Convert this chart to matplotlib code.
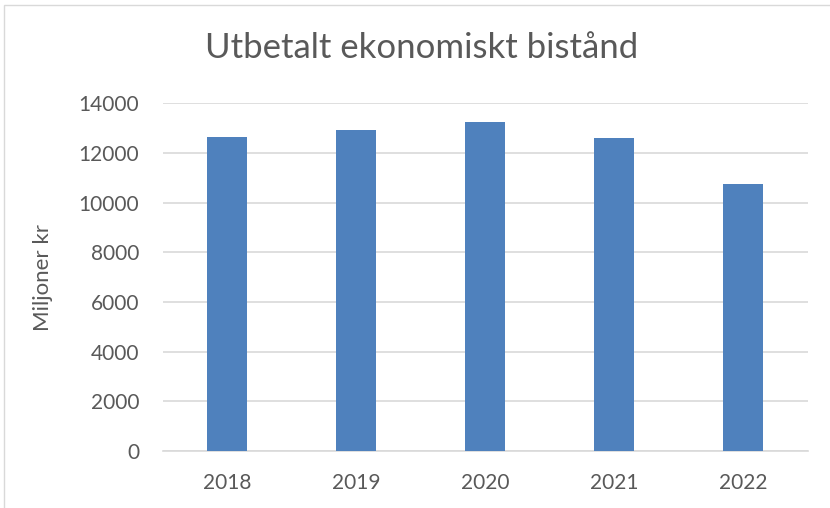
import matplotlib
matplotlib.use("Agg")
import matplotlib.pyplot as plt
from matplotlib.patches import Rectangle

years = ["2018", "2019", "2020", "2021", "2022"]
values = [12640, 12930, 13240, 12600, 10750]
yticks = [0, 2000, 4000, 6000, 8000, 10000, 12000, 14000]

plt.rcParams['font.family'] = ['Lato', 'DejaVu Sans']

fig = plt.figure(figsize=(8.3, 5.08), dpi=100)
ax = fig.add_axes([0.196, 0.112, 0.777, 0.685])

x = list(range(len(years)))
ax.bar(x, values, width=0.31, color="#4F81BD", zorder=3)
ax.set_xlim(-0.5, len(years) - 0.5)
ax.set_ylim(0, 14000)
ax.set_yticks(yticks)
ax.set_yticklabels([str(t) for t in yticks])
ax.set_xticks(x)
ax.set_xticklabels(years)
ax.tick_params(axis='both', length=0, labelsize=15, colors="#595959")
ax.tick_params(axis='x', pad=16)
ax.tick_params(axis='y', pad=17)
ax.grid(axis='y', color="#D9D9D9", linewidth=1.2, zorder=0)
for s in ["top", "right", "left"]:
    ax.spines[s].set_visible(False)
ax.spines["bottom"].set_color("#D9D9D9")
ax.spines["bottom"].set_linewidth(1.2)

ax.set_ylabel("Miljoner kr", fontsize=16, color="#595959", labelpad=18)
fig.text(0.508, 0.905, "Utbetalt ekonomiskt bistånd", ha="center", va="center",
         fontsize=25, color="#595959")

fig.patches.append(Rectangle((4 / 830, -0.1), 1.2, 1.1 - 5 / 508, transform=fig.transFigure,
                             fill=False, edgecolor="#D9D9D9", linewidth=1))

fig.savefig("out.png", dpi=100)
